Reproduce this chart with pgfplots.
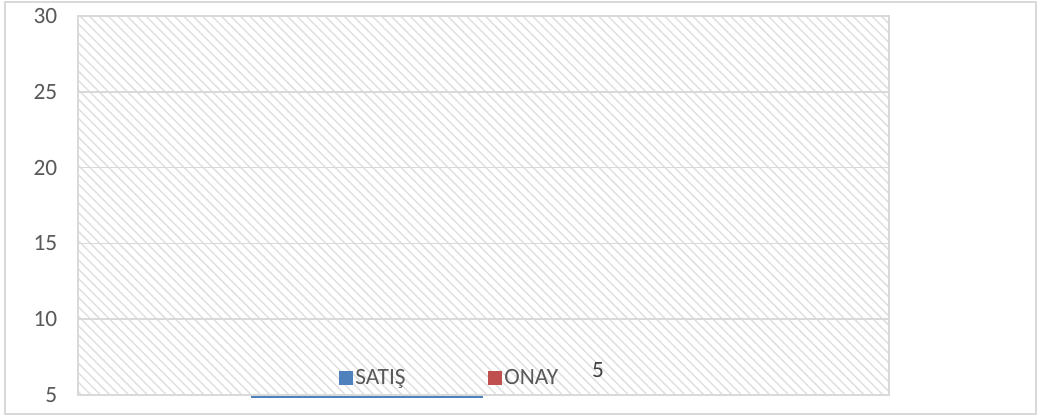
\documentclass[border=0pt]{standalone}
\usepackage{pgfplots}
\pgfplotsset{compat=1.18}
\usepackage{fontspec}
\setmainfont{Carlito}
\usetikzlibrary{patterns.meta}
\definecolor{satis}{HTML}{4F81BD}
\definecolor{onay}{HTML}{C0504D}
\definecolor{gridc}{HTML}{D9D9D9}
\definecolor{hatch}{HTML}{E0E0E0}
\definecolor{ticklab}{HTML}{595959}
\definecolor{datalab}{HTML}{404040}
\begin{document}
\begin{tikzpicture}
\useasboundingbox (0,0) rectangle (780.75pt,312.75pt);
\draw[gridc, line width=1.1pt] (3.75pt,2.25pt) rectangle (777pt,311.25pt);
\begin{axis}[
  at={(58.5pt,16.5pt)}, anchor=south west,
  scale only axis, width=608.25pt, height=284.25pt,
  xmin=78, xmax=889, ymin=5, ymax=30,
  xtick=\empty,
  ytick={5,10,15,20,25,30},
  ymajorgrids, grid style={gridc, line width=1.1pt},
  major tick length=0pt,
  axis line style={gridc, line width=1.1pt},
  axis background/.style={pattern={Lines[angle=-45,distance=5pt,line width=1.1pt]}, pattern color=hatch},
  /pgf/number format/assume math mode=true,
  yticklabel style={font=\fontsize{17.5}{19}\selectfont, text=ticklab, xshift=-12pt},
  clip=false,
  legend style={draw=none, fill=none, at={(axis description cs:0.4587,0.045)}, anchor=center,
    font=\fontsize{17.5}{19}\selectfont, text=ticklab, legend columns=2,
    /tikz/every even column/.append style={column sep=60pt}},
  legend cell align=left,
]
\addplot[satis, line width=1.6pt, yshift=-1.2pt, forget plot] coordinates {(251,5) (483,5)};
\addlegendimage{legend image code/.code={\fill[satis] (-3pt,-4.9pt) rectangle (6.75pt,4.9pt);}}
\addlegendentry{SATIŞ}
\addlegendimage{legend image code/.code={\fill[onay] (-3pt,-4.9pt) rectangle (6.75pt,4.9pt);}}
\addlegendentry{ONAY}
\node[text=datalab, font=\fontsize{17.5}{19}\selectfont] at (axis cs:598,6.65) {5};
\end{axis}
\end{tikzpicture}
\end{document}
